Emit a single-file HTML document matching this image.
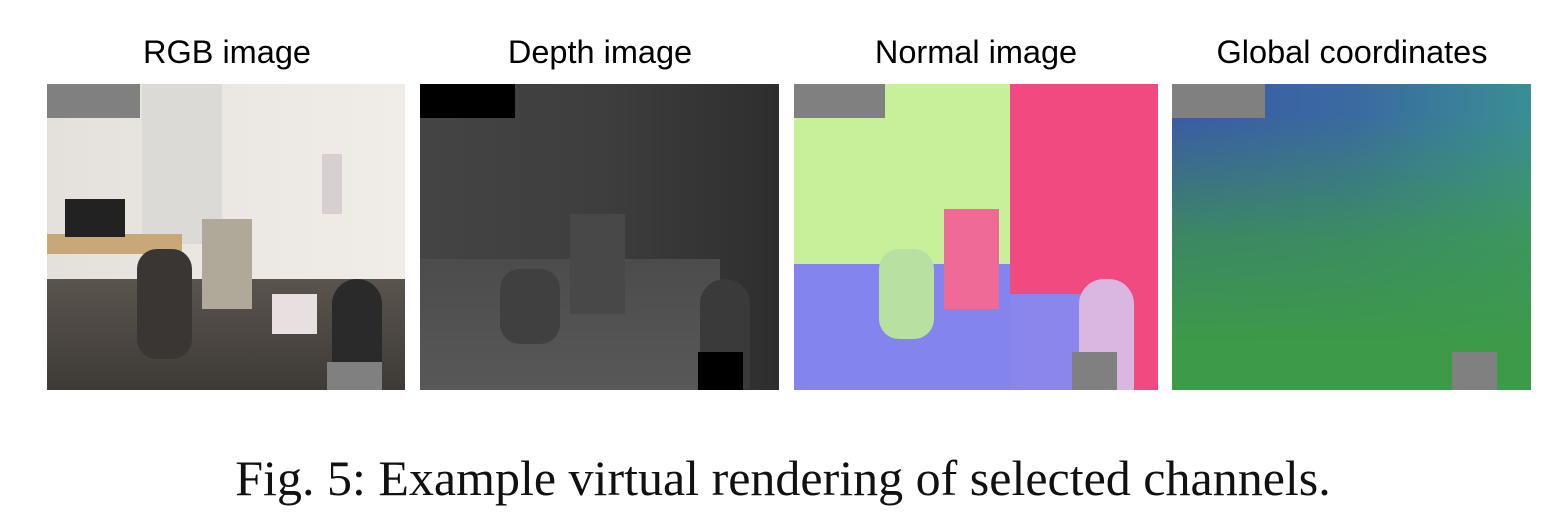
<!DOCTYPE html>
<html><head><meta charset="utf-8"><style>
body{margin:0;width:1566px;height:517px;background:#fff;position:relative;overflow:hidden;font-family:"Liberation Sans",sans-serif}
.t{position:absolute;top:34px;font-size:32.5px;color:#000;text-align:center;width:400px}
.p{position:absolute;top:84px;height:306px;overflow:hidden}
.a{position:absolute}
.cap{position:absolute;top:449px;left:0;width:1566px;text-align:center;font-family:"Liberation Serif",serif;font-size:50px;color:#111}
</style></head><body>
<div class="t" style="left:27px">RGB image</div>
<div class="t" style="left:400px">Depth image</div>
<div class="t" style="left:776px">Normal image</div>
<div class="t" style="left:1152px">Global coordinates</div>

<div class="p" style="left:47px;width:358px;background:linear-gradient(90deg,#e4e0dc 0%,#ece8e4 60%,#f0ece8 100%)">
 <div class="a" style="left:0;top:0;width:93px;height:34px;background:#808080"></div>
 <div class="a" style="left:95px;top:0;width:80px;height:160px;background:#dcdad6"></div>
 <div class="a" style="left:0;top:195px;width:358px;height:111px;background:linear-gradient(180deg,#5a544e,#3e3a36)"></div>
 <div class="a" style="left:0;top:150px;width:135px;height:20px;background:#c8a878"></div>
 <div class="a" style="left:18px;top:115px;width:60px;height:38px;background:#222"></div>
 <div class="a" style="left:155px;top:135px;width:50px;height:90px;background:#b0a898"></div>
 <div class="a" style="left:90px;top:165px;width:55px;height:110px;background:#3a3634;border-radius:20px"></div>
 <div class="a" style="left:225px;top:210px;width:45px;height:40px;background:#e8e0e0"></div>
 <div class="a" style="left:285px;top:195px;width:50px;height:110px;background:#2a2a2a;border-radius:25px 25px 0 0"></div>
 <div class="a" style="left:280px;top:278px;width:55px;height:28px;background:#808080"></div>
 <div class="a" style="left:275px;top:70px;width:20px;height:60px;background:#d8d0d0"></div>
</div>

<div class="p" style="left:420px;width:359px;background:linear-gradient(90deg,#444 0%,#3e3e3e 50%,#2e2e2e 100%)">
 <div class="a" style="left:0;top:0;width:95px;height:34px;background:#000"></div>
 <div class="a" style="left:0;top:175px;width:300px;height:131px;background:linear-gradient(180deg,#4c4c4c,#585858)"></div>
 <div class="a" style="left:80px;top:185px;width:60px;height:75px;background:#404040;border-radius:20px"></div>
 <div class="a" style="left:150px;top:130px;width:55px;height:100px;background:#484848"></div>
 <div class="a" style="left:280px;top:195px;width:50px;height:110px;background:#3a3a3a;border-radius:25px 25px 0 0"></div>
 <div class="a" style="left:278px;top:268px;width:45px;height:38px;background:#000"></div>
</div>

<div class="p" style="left:794px;width:364px;background:#c8f09a">
 <div class="a" style="left:0;top:0;width:91px;height:34px;background:#808080"></div>
 <div class="a" style="left:216px;top:0;width:148px;height:306px;background:#f04a80"></div>
 <div class="a" style="left:0;top:180px;width:216px;height:126px;background:#8484ee"></div>
 <div class="a" style="left:216px;top:210px;width:80px;height:96px;background:#8a86ec"></div>
 <div class="a" style="left:150px;top:125px;width:55px;height:100px;background:#f06a98"></div>
 <div class="a" style="left:85px;top:165px;width:55px;height:90px;background:#b8e0a0;border-radius:20px"></div>
 <div class="a" style="left:285px;top:195px;width:55px;height:111px;background:#d8b8e0;border-radius:25px 25px 0 0"></div>
 <div class="a" style="left:278px;top:268px;width:45px;height:38px;background:#808080"></div>
</div>

<div class="p" style="left:1172px;width:359px;background:linear-gradient(180deg,rgba(61,154,72,0) 10%,rgba(61,154,72,0.7) 50%,#3d9a48 85%),linear-gradient(90deg,#3b5aa6 0%,#3a6aa0 50%,#3a8e94 100%)">
 <div class="a" style="left:0;top:0;width:93px;height:34px;background:#808080"></div>
 <div class="a" style="left:280px;top:268px;width:45px;height:38px;background:#808080"></div>
</div>

<div class="cap">Fig. 5: Example virtual rendering of selected channels.</div>
</body></html>
